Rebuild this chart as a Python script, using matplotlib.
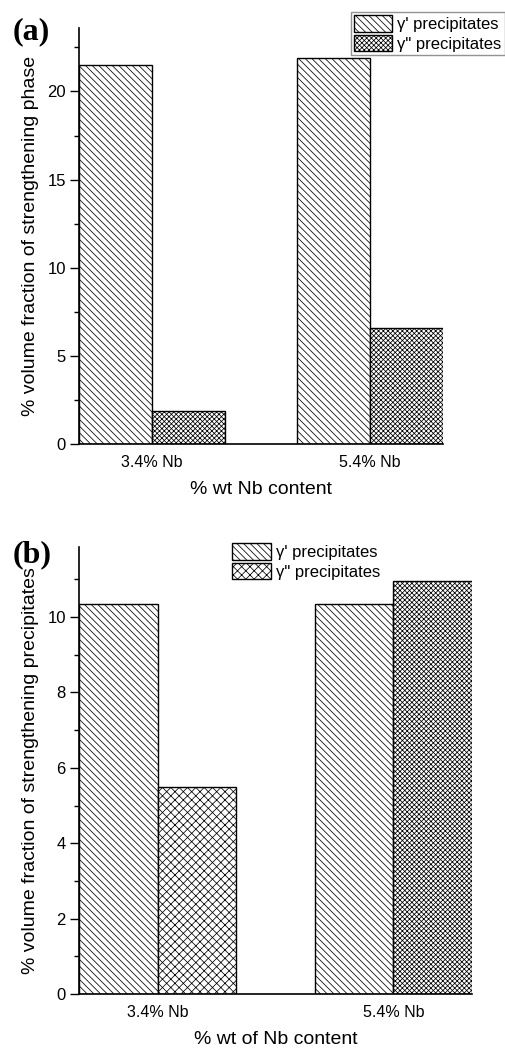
import numpy as np
import matplotlib
matplotlib.use('Agg')
import matplotlib.pyplot as plt
from matplotlib.patches import Patch
from matplotlib.ticker import MultipleLocator

#data
categories=['3.4% Nb','5.4% Nb']
series_names=["\u03b3' precipitates",'\u03b3" precipitates']

#panel (a): strengthening phase
a_gamma_p=[21.5,21.9]
a_gamma_pp=[1.85,6.6]

#panel (b): strengthening precipitates
b_gamma_p=[10.35,10.35]
b_gamma_pp=[5.5,10.95]

plt.rcParams['font.family']=['Liberation Sans','DejaVu Sans']
plt.rcParams['hatch.linewidth']=0.55

W,H=506,1053
fig=plt.figure(figsize=(W/100,H/100),dpi=100)

#hatch styles
diag='\\'*5
fine_x='x'*7
coarse_x='x'*4

#------------------------------------------------------------------------------
def px_axes(x0,y0,x1,y1):
    return fig.add_axes([x0/W,1-y1/H,(x1-x0)/W,(y1-y0)/H])

def decorate(ax,ymax,major,minor,xlabel,ylabel):
    ax.set_xlim(-1/3,4/3)
    ax.set_ylim(0,ymax)
    ax.spines['top'].set_visible(False)
    ax.spines['right'].set_visible(False)
    ax.spines['left'].set_linewidth(1.2)
    ax.spines['bottom'].set_linewidth(1.2)
    ax.yaxis.set_major_locator(MultipleLocator(major))
    ax.yaxis.set_minor_locator(MultipleLocator(minor))
    ax.tick_params(axis='y',which='major',direction='out',length=6.5,width=1,labelsize=12,pad=3)
    ax.tick_params(axis='y',which='minor',direction='out',length=3.5,width=1)
    ax.tick_params(axis='x',length=0,labelsize=11.5,pad=8)
    ax.set_xticks(np.arange(len(categories)))
    ax.set_xticklabels(categories)
    ax.set_xlabel(xlabel,fontsize=14,labelpad=8)
    ax.set_ylabel(ylabel,fontsize=14,labelpad=6)

w=1/3
x=np.arange(len(categories))

legend_kw=dict(fontsize=12,handlelength=2.3,handleheight=1.15,handletextpad=0.3,
               labelspacing=0.15,borderpad=0.2,borderaxespad=0)

#------------------------------------------------------------------------------
#(a)
ax1=px_axes(79,28,443,444)
ax1.bar(x-w/2,a_gamma_p,w,color='white',edgecolor='black',linewidth=1,hatch=diag)
ax1.bar(x+w/2,a_gamma_pp,w,color='white',edgecolor='black',linewidth=1,hatch=fine_x)
decorate(ax1,23.6,5,2.5,'% wt Nb content','% volume fraction of strengthening phase')

handles_a=[Patch(facecolor='white',edgecolor='black',hatch=diag,label=series_names[0]),
           Patch(facecolor='white',edgecolor='black',hatch=fine_x,label=series_names[1])]
leg=fig.legend(handles=handles_a,loc='upper right',bbox_to_anchor=(505/W,1-12/H),
               frameon=True,fancybox=False,edgecolor='#777777',**legend_kw)
leg.get_frame().set_linewidth(1)

fig.text(13/W,1-39/H,'(a)',fontsize=23,fontweight='bold',family='Liberation Serif')

#------------------------------------------------------------------------------
#(b)
ax2=px_axes(79,547,472,994)
ax2.bar(x-w/2,b_gamma_p,w,color='white',edgecolor='black',linewidth=1,hatch=diag)
ax2.bar(x+w/2,b_gamma_pp,w,color='white',edgecolor='black',linewidth=1,hatch=[coarse_x,fine_x])
decorate(ax2,11.86,2,1,'% wt of Nb content','% volume fraction of strengthening precipitates')

handles_b=[Patch(facecolor='white',edgecolor='black',hatch=diag,label=series_names[0]),
           Patch(facecolor='white',edgecolor='black',hatch=coarse_x,label=series_names[1])]
fig.legend(handles=handles_b,loc='upper left',bbox_to_anchor=(229/W,1-540/H),
           frameon=False,**legend_kw)

fig.text(13/W,1-562/H,'(b)',fontsize=23,fontweight='bold',family='Liberation Serif')

fig.savefig('out.png',dpi=100)
